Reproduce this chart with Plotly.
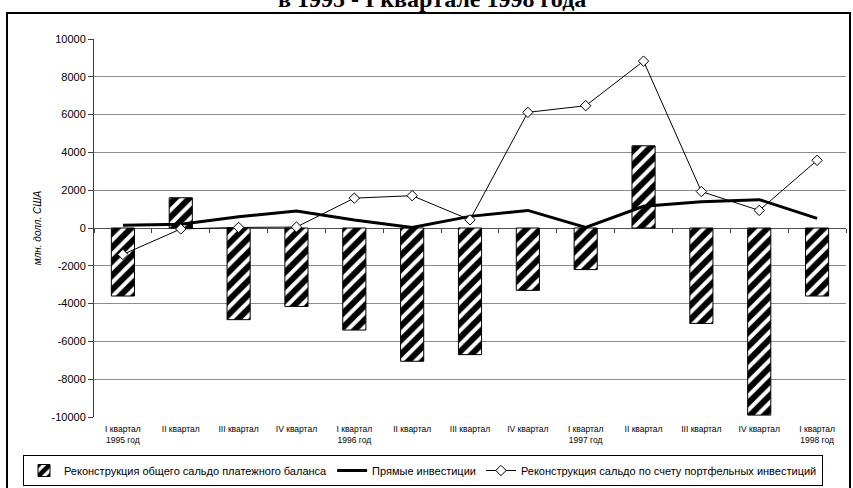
import plotly.graph_objects as go

# Quarter labels along the category axis
quarters = [
    "I квартал<br>1995 год", "II квартал", "III квартал", "IV квартал",
    "I квартал<br>1996 год", "II квартал", "III квартал", "IV квартал",
    "I квартал<br>1997 год", "II квартал", "III квартал", "IV квартал",
    "I квартал<br>1998 год",
]

# Series, млн. долл. США
overall_balance = [-3600, 1600, -4850, -4150, -5400, -7050, -6700,
                   -3300, -2200, 4350, -5050, -9900, -3600]
direct_investment = [150, 200, 600, 900, 420, 30, 615,
                     930, 30, 1150, 1390, 1500, 510]
portfolio_balance = [-1400, -50, 30, 50, 1580, 1710, 430,
                     6120, 6470, 8830, 1930, 930, 3580]

y_ticks = [-10000, -8000, -6000, -4000, -2000, 0, 2000, 4000, 6000, 8000, 10000]
y_tick_text = [str(v) for v in y_ticks]

W, H = 853, 488
L, R, T, B = 94, 7, 39, 71
pw, ph = W - L - R, H - T - B


def px_x(p):
    return (p - L) / pw


def px_y(p):
    return (H - B - p) / ph


x = list(range(len(quarters)))
font_main = "Liberation Sans, Arial, sans-serif"

fig = go.Figure()

fig.add_trace(go.Bar(
    x=x, y=overall_balance,
    name="Реконструкция общего сальдо платежного баланса",
    marker=dict(
        color="white",
        line=dict(color="black", width=1),
        pattern=dict(shape="/", fgcolor="#000000", bgcolor="white",
                     fgopacity=1, size=10, solidity=0.6),
    ),
))

fig.add_trace(go.Scatter(
    x=x, y=direct_investment, mode="lines",
    name="Прямые инвестиции",
    line=dict(color="black", width=3),
))

fig.add_trace(go.Scatter(
    x=x, y=portfolio_balance, mode="lines+markers",
    name="Реконструкция сальдо по счету портфельных инвестиций",
    line=dict(color="black", width=1),
    marker=dict(symbol="diamond", size=8, color="white",
                line=dict(color="black", width=1)),
))

# Category axis that crosses at zero, with boundary tick marks
fig.add_trace(go.Scatter(x=[-0.5, 12.5], y=[0, 0], xaxis="x2", mode="lines",
                         line=dict(width=0), hoverinfo="skip",
                         showlegend=False))

fig.update_layout(
    width=W, height=H,
    margin=dict(l=L, r=R, t=T, b=B, autoexpand=False),
    paper_bgcolor="white", plot_bgcolor="white",
    bargap=0.6,
    font=dict(family=font_main, color="black"),
    showlegend=True,
    legend=dict(
        orientation="h",
        x=px_x(23), xanchor="left",
        y=px_y(455), yanchor="top",
        bgcolor="white", bordercolor="black", borderwidth=1,
        font=dict(family=font_main, size=11),
        itemwidth=30, tracegroupgap=0,
    ),
    xaxis=dict(
        range=[-0.5, 12.5],
        tickmode="array", tickvals=x, ticktext=quarters,
        tickfont=dict(size=8.5, family=font_main, color="black"),
        ticklabelstandoff=5,
        showgrid=False, zeroline=False, showline=False, ticks="",
    ),
    xaxis2=dict(
        overlaying="x", anchor="free", position=0.5,
        range=[-0.5, 12.5],
        tickmode="array", tickvals=[v - 0.5 for v in x] + [12.5],
        showticklabels=False, ticks="outside", ticklen=4,
        tickcolor="#404040", showline=True, linecolor="#505050",
        linewidth=1, showgrid=False, zeroline=False,
        layer="below traces",
    ),
    yaxis=dict(
        range=[-10000, 10000],
        tickmode="array", tickvals=y_ticks, ticktext=y_tick_text,
        tickfont=dict(size=11, family=font_main),
        showgrid=True, gridcolor="#8c8c8c", gridwidth=1,
        zeroline=False,
        showline=True, linecolor="#404040", linewidth=1,
        ticks="outside", ticklen=5, tickcolor="#404040",
        title=dict(text="<i>млн. долл. США</i>",
                   font=dict(size=10, family=font_main), standoff=8),
    ),
)

# Heading line of the chart
fig.add_annotation(
    text="<b>в 1995 - I квартале 1998 года</b>",
    xref="paper", yref="paper",
    x=px_x(432), y=px_y(14), xanchor="center", yanchor="bottom",
    showarrow=False,
    font=dict(family="Liberation Serif, Times New Roman, serif", size=24,
              color="black"),
)

# Outer frame of the chart
fig.add_shape(
    type="rect", xref="paper", yref="paper",
    x0=px_x(7), x1=px_x(850), y0=px_y(495), y1=px_y(13),
    line=dict(color="black", width=2), layer="below",
)

fig.write_html("out.html")
